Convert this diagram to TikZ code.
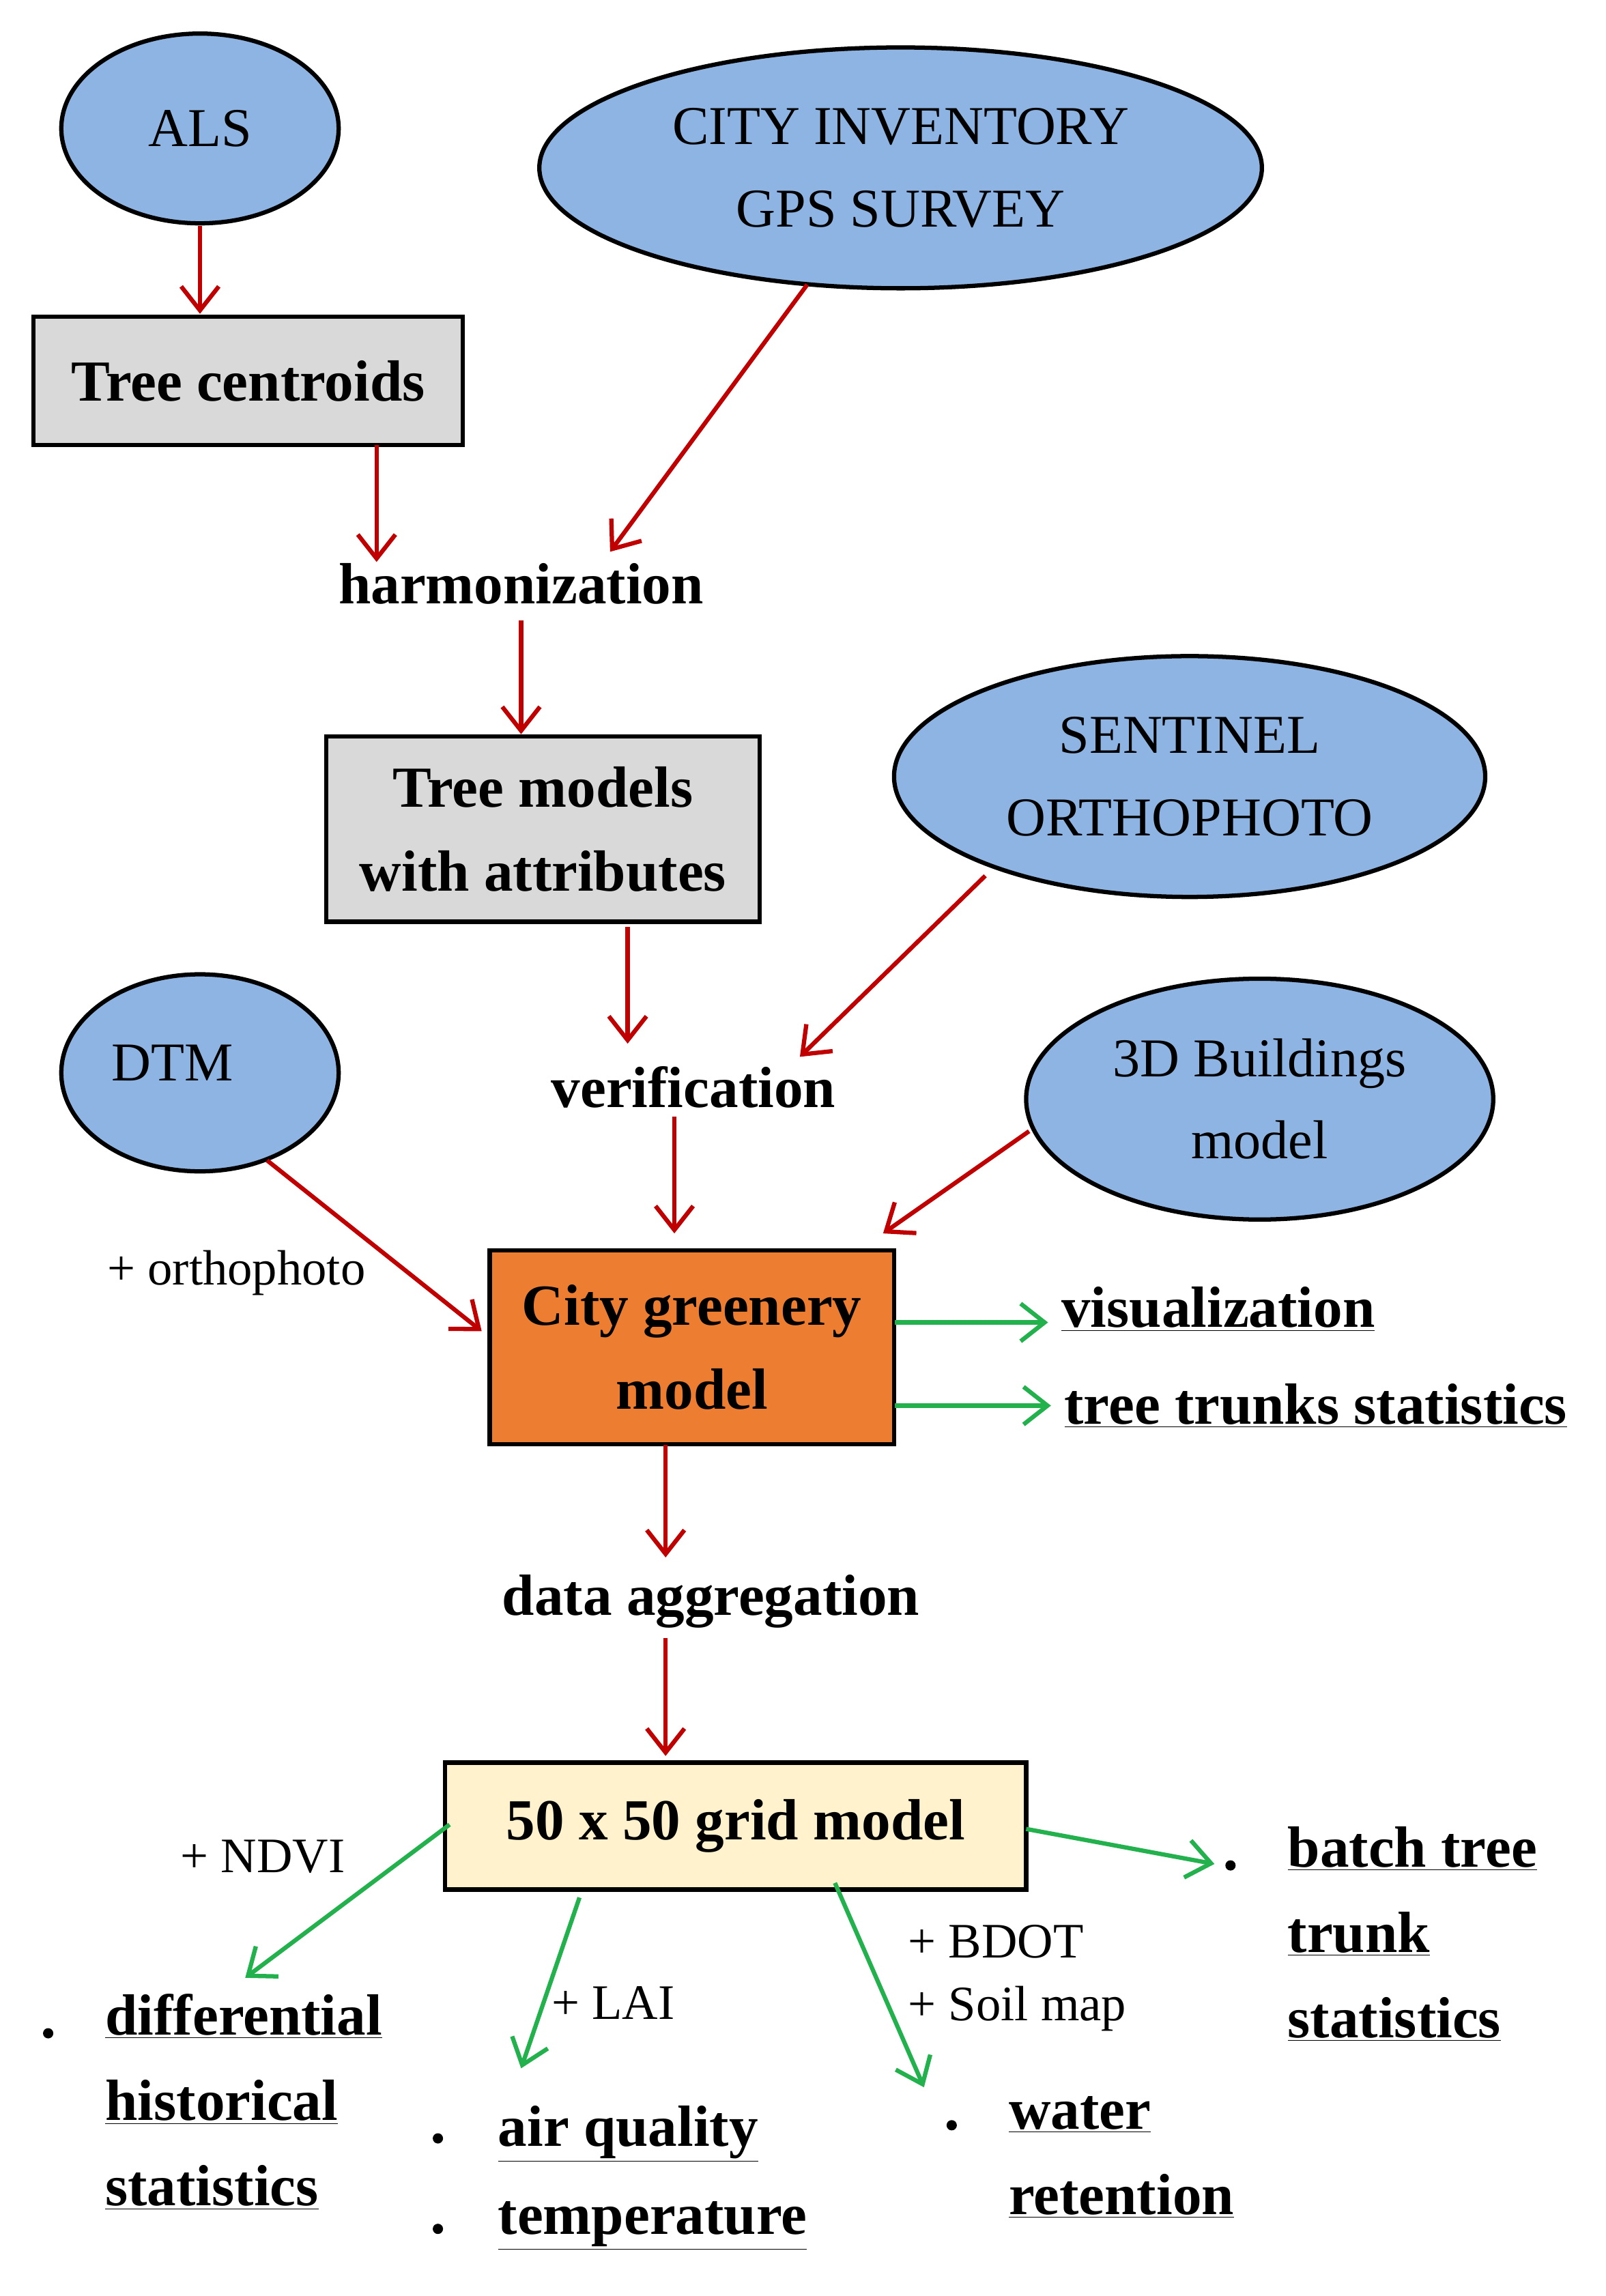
\documentclass[tikz,border=0pt]{standalone}
\usepackage{fontspec}
\setmainfont{Liberation Serif}
\usetikzlibrary{arrows.meta,shapes.geometric}
\definecolor{ellb}{HTML}{8DB4E2}
\definecolor{boxg}{HTML}{D9D9D9}
\definecolor{orng}{HTML}{ED7D31}
\definecolor{ylw}{HTML}{FFF2CC}
\definecolor{dred}{HTML}{C00000}
\definecolor{grn}{HTML}{22B14C}
\newcommand{\ul}[1]{\underline{#1}}
\begin{document}
\begin{tikzpicture}[x=0.03cm,y=-0.03cm,
  ell/.style={ellipse,draw=black,line width=2.5pt,fill=ellb,inner sep=0pt,font=\fontsize{32}{48}\selectfont,align=center},
  box/.style={rectangle,draw=black,line width=2.5pt,inner sep=0pt,font=\fontsize{34}{49}\selectfont\bfseries,align=center},
  lbl/.style={font=\fontsize{34}{49}\selectfont\bfseries,align=center,inner sep=0pt},
  plain/.style={font=\fontsize{29}{40}\selectfont,inner sep=0pt},
  res/.style={font=\fontsize{34}{49}\selectfont\bfseries,align=left,inner sep=0pt,anchor=west},
  dot/.style={circle,fill=black,inner sep=0pt,minimum size=6pt},
  ra/.style={draw=dred,line width=2.5pt,-{Straight Barb[length=14pt,width=22pt,line width=2.5pt]}},
  ga/.style={draw=grn,line width=2.5pt,-{Straight Barb[length=14pt,width=22pt,line width=2.5pt]}}]
\useasboundingbox (0,0) rectangle (1100,1573);
\node[ell,minimum width=190\pgflinewidth*0+5.7cm,minimum height=3.9cm] (als) at (137,88) {ALS};
\node[ell,minimum width=14.85cm,minimum height=4.95cm] (city) at (617,115) {CITY INVENTORY\\GPS SURVEY};
\node[box,fill=boxg,minimum width=8.82cm,minimum height=2.64cm] (tc) at (170,261) {Tree centroids};
\node[lbl] (harm) at (357,400) {harmonization};
\node[box,fill=boxg,minimum width=8.91cm,minimum height=3.81cm] (tm) at (372,568) {Tree models\\with attributes};
\node[ell,minimum width=12.15cm,minimum height=4.95cm] (sent) at (815,532) {SENTINEL\\ORTHOPHOTO};
\node[ell,minimum width=5.7cm,minimum height=4.05cm] (dtm) at (137,735) {};
\node[font=\fontsize{32}{48}\selectfont,inner sep=0pt] (dtmt) at (118,728) {DTM};
\node[lbl] (ver) at (475,745) {verification};
\node[ell,minimum width=9.6cm,minimum height=4.95cm] (b3d) at (863,753) {3D Buildings\\model};
\node[plain] (orth) at (162,872) {+ orthophoto};
\node[box,fill=orng,minimum width=8.31cm,minimum height=3.99cm] (cgm) at (474,923) {City greenery\\model};
\node[res] (vis) at (727,897) {\ul{visualization}};
\node[res] (tts) at (729,963) {\ul{tree trunks statistics}};
\node[lbl] (agg) at (487,1097) {data aggregation};
\node[box,fill=ylw,minimum width=11.94cm,minimum height=2.61cm] (grid) at (504,1251) {50 x 50 grid model};
\node[plain] (ndvi) at (180,1272) {+ NDVI};
\node[plain] (lai) at (420,1372) {+ LAI};
\node[plain,anchor=west] (bdot) at (622,1330) {+ BDOT};
\node[plain,anchor=west] (soil) at (622,1376) {+ Soil map};
\node[dot] (d1) at (33,1393) {};
\node[res,font=\fontsize{34}{50}\selectfont\bfseries] (diff) at (72,1440) {\ul{differential}\\\ul{historical}\\\ul{statistics}};
\node[dot] (d2) at (300,1465) {};
\node[res] (air) at (341,1462) {\ul{air quality}};
\node[dot] (d3) at (300,1527) {};
\node[res] (temp) at (341,1525) {\ul{temperature}};
\node[dot] (d4) at (652,1456) {};
\node[res,font=\fontsize{34}{50}\selectfont\bfseries] (water) at (691,1478) {\ul{water}\\\ul{retention}};
\node[dot] (d5) at (843,1278) {};
\node[res,font=\fontsize{34}{50}\selectfont\bfseries] (batch) at (882,1325) {\ul{batch tree}\\\ul{trunk}\\\ul{statistics}};
% coordinates
\coordinate (a1) at (137,155); \coordinate (a2) at (137,215);
\coordinate (b1) at (258,305); \coordinate (b2) at (258,385);
\coordinate (c1) at (553,195); \coordinate (c2) at (418,378);
\coordinate (e1) at (357,425); \coordinate (e2) at (357,503);
\coordinate (f1) at (430,635); \coordinate (f2) at (430,715);
\coordinate (g1) at (675,600); \coordinate (g2) at (548,724);
\coordinate (h1) at (462,765); \coordinate (h2) at (462,845);
\coordinate (i1) at (183,795); \coordinate (i2) at (330,912);
\coordinate (j1) at (705,775); \coordinate (j2) at (605,845);
\coordinate (k1) at (456,990); \coordinate (k2) at (456,1067);
\coordinate (l1) at (456,1122); \coordinate (l2) at (456,1203);
\coordinate (m1) at (613,906); \coordinate (m2) at (718,906);
\coordinate (n1) at (613,963); \coordinate (n2) at (720,963);
\coordinate (o1) at (703,1253); \coordinate (o2) at (832,1277);
\coordinate (p1) at (308,1250); \coordinate (p2) at (168,1355);
\coordinate (q1) at (397,1300); \coordinate (q2) at (357,1417);
\coordinate (r1) at (572,1290); \coordinate (r2) at (633,1430);
\foreach \s/\t in {a1/a2,b1/b2,c1/c2,e1/e2,f1/f2,g1/g2,h1/h2,i1/i2,j1/j2,k1/k2,l1/l2}
  \draw[ra] (\s) -- (\t);
\foreach \s/\t in {m1/m2,n1/n2,o1/o2,p1/p2,q1/q2,r1/r2}
  \draw[ga] (\s) -- (\t);
\end{tikzpicture}
\end{document}
